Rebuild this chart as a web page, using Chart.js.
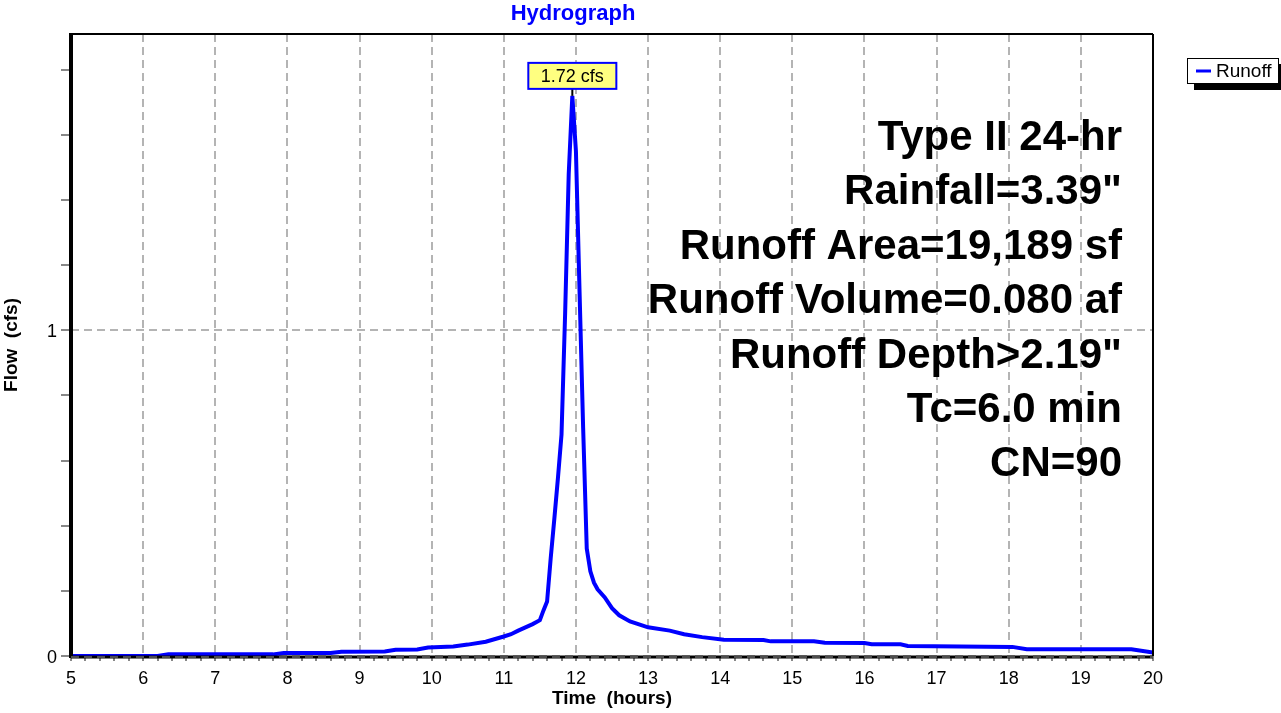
<!DOCTYPE html>
<html>
<head>
<meta charset="utf-8">
<title>Hydrograph</title>
<script src="https://cdn.jsdelivr.net/npm/chart.js@4.4.0/dist/chart.umd.min.js"></script>
<style>
  html, body { margin: 0; padding: 0; background: #fff; }
  canvas { display: block; }
</style>
</head>
<body>
<canvas id="hydro" width="1281" height="713"></canvas>
<script>
// hydrograph values (hours, cfs)
const times = [5.00, 6.20, 6.35, 7.80, 7.95, 8.60, 8.75, 9.35, 9.50, 9.80, 9.95, 10.30, 10.50, 10.75,
    11.00, 11.10, 11.20, 11.30, 11.40, 11.50, 11.55, 11.60, 11.65, 11.70, 11.75, 11.80, 11.85, 11.90,
    11.95, 12.00, 12.05, 12.10, 12.15, 12.20, 12.25, 12.30, 12.40, 12.50, 12.60, 12.75, 13.00, 13.30,
    13.50, 13.75, 14.05, 14.60, 14.70, 15.30, 15.45, 16.00, 16.10, 16.50, 16.60, 18.05, 18.25, 19.70, 20.00];
const flows = [0, 0, 0.005, 0.005, 0.009, 0.009, 0.013, 0.014, 0.019, 0.020, 0.026, 0.029, 0.035, 0.044,
    0.060, 0.067, 0.078, 0.088, 0.098, 0.110, 0.140, 0.167, 0.300, 0.420, 0.545, 0.680, 1.050, 1.480,
    1.720, 1.550, 1.120, 0.700, 0.330, 0.260, 0.225, 0.205, 0.180, 0.147, 0.125, 0.106, 0.088, 0.078,
    0.067, 0.058, 0.050, 0.049, 0.045, 0.045, 0.041, 0.040, 0.036, 0.036, 0.031, 0.028, 0.021, 0.021, 0.011];

const xRange = [5, 20];
const yRange = [0, 1.91];
const yLabels = [0, 1];
const minorStep = 0.2;

const seriesName = 'Runoff';
const infoLines = ['Type II 24-hr', 'Rainfall=3.39"', 'Runoff Area=19,189 sf',
    'Runoff Volume=0.080 af', 'Runoff Depth>2.19"', 'Tc=6.0 min', 'CN=90'];

const FONT = '"Liberation Sans", Arial, sans-serif';
const points = times.map((t, i) => ({x: t, y: flows[i]}));

function isWhole(v) { return Math.abs(v - Math.round(v)) < 1e-6; }

// frame: thick left/bottom axis, thin top/right
const framePlugin = {
    id: 'frame',
    afterDatasetsDraw(chart) {
        const {ctx, chartArea: a} = chart;
        ctx.save();
        ctx.strokeStyle = '#000';
        ctx.lineWidth = 2;
        ctx.beginPath();
        ctx.moveTo(a.left, a.top);
        ctx.lineTo(a.right, a.top);
        ctx.moveTo(a.right, a.top);
        ctx.lineTo(a.right, a.bottom);
        ctx.stroke();
        ctx.lineWidth = 3;
        ctx.beginPath();
        ctx.moveTo(a.left, a.bottom + 1);
        ctx.lineTo(a.right, a.bottom + 1);
        ctx.stroke();
        ctx.lineWidth = 4;
        ctx.beginPath();
        ctx.moveTo(a.left, a.top - 1);
        ctx.lineTo(a.left, a.bottom + 2);
        ctx.stroke();
        // gray dashes over the bottom axis
        ctx.strokeStyle = '#9a9a9a';
        ctx.lineWidth = 1;
        ctx.setLineDash([8, 5]);
        ctx.beginPath();
        ctx.moveTo(a.left, a.bottom + 1);
        ctx.lineTo(a.right, a.bottom + 1);
        ctx.stroke();
        ctx.restore();
    }
};

// title, info text, peak callout, legend
const notesPlugin = {
    id: 'notes',
    afterDraw(chart) {
        const {ctx} = chart;
        ctx.save();

        ctx.fillStyle = '#0000ff';
        ctx.font = 'bold 22px ' + FONT;
        ctx.textAlign = 'center';
        ctx.textBaseline = 'alphabetic';
        ctx.fillText('Hydrograph', 573, 20);

        ctx.fillStyle = '#000';
        ctx.font = 'bold 42px ' + FONT;
        ctx.textAlign = 'right';
        infoLines.forEach((s, i) => ctx.fillText(s, 1122, 150 + i * 54.4));

        // peak
        const meta = chart.getDatasetMeta(0);
        let pi = 0;
        flows.forEach((v, i) => { if (v > flows[pi]) pi = i; });
        const pt = meta.data[pi];
        const label = flows[pi].toFixed(2) + ' cfs';
        ctx.font = '18px ' + FONT;
        const w = ctx.measureText(label).width + 25;
        const h = 26;
        const bx = pt.x - w / 2, by = pt.y - 7 - h;
        ctx.strokeStyle = '#000';
        ctx.lineWidth = 2;
        ctx.beginPath();
        ctx.moveTo(pt.x, by + h);
        ctx.lineTo(pt.x, pt.y);
        ctx.stroke();
        ctx.fillStyle = '#ffff80';
        ctx.fillRect(bx, by, w, h);
        ctx.strokeStyle = '#0000ff';
        ctx.strokeRect(bx, by, w, h);
        ctx.fillStyle = '#000';
        ctx.textAlign = 'center';
        ctx.textBaseline = 'middle';
        ctx.fillText(label, pt.x, by + h / 2 + 1);

        // legend with shadow
        ctx.fillStyle = '#000';
        ctx.fillRect(1194, 64, 90, 26);
        ctx.fillStyle = '#fff';
        ctx.fillRect(1187, 58, 92, 26);
        ctx.strokeStyle = '#000';
        ctx.lineWidth = 1;
        ctx.strokeRect(1187.5, 58.5, 91, 25);
        ctx.strokeStyle = '#0000ff';
        ctx.lineWidth = 3;
        ctx.beginPath();
        ctx.moveTo(1196, 71);
        ctx.lineTo(1211, 71);
        ctx.stroke();
        ctx.fillStyle = '#000';
        ctx.font = '19px ' + FONT;
        ctx.textAlign = 'left';
        ctx.fillText(seriesName, 1216, 72);

        ctx.restore();
    }
};

new Chart(document.getElementById('hydro'), {
    type: 'line',
    data: {
        datasets: [{
            label: seriesName,
            data: points,
            borderColor: '#0000ff',
            borderWidth: 4,
            pointRadius: 0,
            tension: 0,
            fill: false
        }]
    },
    options: {
        responsive: false,
        animation: false,
        devicePixelRatio: 1,
        layout: { padding: { top: 34, right: 128, left: 0, bottom: 0 } },
        plugins: {
            legend: { display: false },
            tooltip: { enabled: false },
            title: { display: false }
        },
        scales: {
            x: {
                type: 'linear',
                min: xRange[0],
                max: xRange[1],
                afterFit(s) { s.height = 57; },
                ticks: {
                    stepSize: minorStep,
                    autoSkip: false,
                    maxRotation: 0,
                    padding: 7,
                    color: '#000',
                    font: { family: FONT, size: 18 },
                    callback: v => isWhole(v) ? String(Math.round(v)) : ''
                },
                grid: {
                    color: c => (isWhole(c.tick.value) && c.tick.value > xRange[0]) ? '#b4b4b4' : 'rgba(0,0,0,0)',
                    lineWidth: 2,
                    tickLength: 5,
                    tickColor: '#888',
                    tickWidth: 2
                },
                border: { display: false, dash: [8, 5] },
                title: {
                    display: true,
                    text: 'Time  (hours)',
                    color: '#000',
                    font: { family: FONT, size: 19, weight: 'bold' },
                    padding: { top: 0, bottom: 3 }
                }
            },
            y: {
                type: 'linear',
                min: yRange[0],
                max: yRange[1],
                afterFit(s) { s.width = 71; },
                ticks: {
                    stepSize: minorStep,
                    includeBounds: false,
                    autoSkip: false,
                    padding: 4,
                    labelOffset: 2,
                    color: '#000',
                    font: { family: FONT, size: 18 },
                    callback: v => yLabels.some(l => Math.abs(l - v) < 1e-6) ? String(Math.round(v)) : ''
                },
                grid: {
                    color: c => yLabels.some(l => Math.abs(l - c.tick.value) < 1e-6) ? '#b4b4b4' : 'rgba(0,0,0,0)',
                    lineWidth: 2,
                    tickLength: 10,
                    tickColor: '#888',
                    tickWidth: 2
                },
                border: { display: false, dash: [8, 5] },
                title: {
                    display: true,
                    text: 'Flow  (cfs)',
                    color: '#000',
                    font: { family: FONT, size: 19, weight: 'bold' },
                    padding: { top: 0, bottom: 0 }
                }
            }
        }
    },
    plugins: [framePlugin, notesPlugin]
});
</script>
</body>
</html>
